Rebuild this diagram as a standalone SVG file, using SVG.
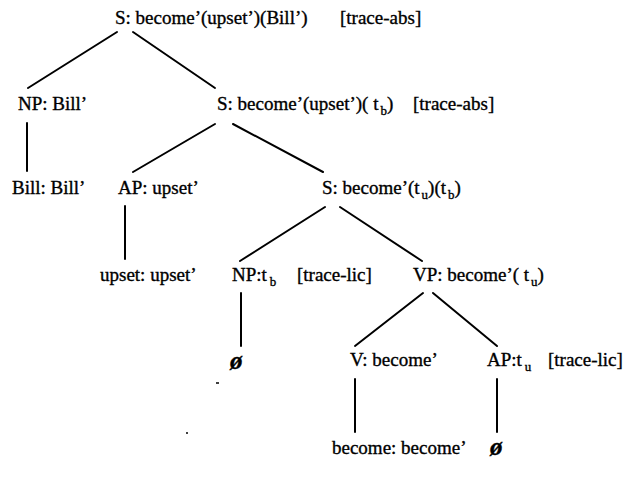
<svg xmlns="http://www.w3.org/2000/svg" width="628" height="478" viewBox="0 0 628 478">
<style>
text{font-family:"Liberation Serif","Times New Roman",serif;font-size:19px;fill:#000;stroke:#000;stroke-width:0.35}
.sub{font-size:13px}
.e{font-weight:bold;font-style:italic;font-size:25px}
#edges line{stroke:#000;stroke-width:2;stroke-linecap:round}
</style>
<rect width="628" height="478" fill="#fff"/>
<g id="edges">
<line x1="117" y1="32" x2="28" y2="88"/>
<line x1="133" y1="32" x2="215" y2="88"/>
<line x1="27" y1="123" x2="27" y2="171"/>
<line x1="215" y1="124" x2="133" y2="172"/>
<line x1="233" y1="124" x2="323" y2="172"/>
<line x1="125" y1="206" x2="125" y2="259"/>
<line x1="325" y1="207" x2="240" y2="261"/>
<line x1="340" y1="207" x2="422" y2="261"/>
<line x1="241" y1="293" x2="241" y2="346"/>
<line x1="423" y1="293" x2="355" y2="346"/>
<line x1="433" y1="293" x2="497" y2="346"/>
<line x1="355" y1="379" x2="355" y2="432"/>
<line x1="497" y1="379" x2="497" y2="432"/>
</g>
<g id="n_root"><text x="115" y="24">S: become’(upset’)(Bill’)</text><text x="340" y="24">[trace-abs]</text></g>
<g id="n_np1"><text x="18" y="110">NP: Bill’</text></g>
<g id="n_s2"><text x="217" y="110">S: become’(upset’)( t<tspan class="sub" dx="2" dy="5">b</tspan><tspan dy="-5">)</tspan></text><text x="413" y="110">[trace-abs]</text></g>
<g id="n_bill"><text x="12" y="194">Bill: Bill’</text></g>
<g id="n_ap1"><text x="118" y="194">AP: upset’</text></g>
<g id="n_s3"><text x="322" y="194">S: become’(t<tspan class="sub" dx="2" dy="5">u</tspan><tspan dy="-5">)(t</tspan><tspan class="sub" dx="2" dy="5">b</tspan><tspan dy="-5">)</tspan></text></g>
<g id="n_upset"><text x="100" y="281">upset: upset’</text></g>
<g id="n_np2"><text x="232" y="281">NP:t<tspan class="sub" dx="3" dy="5">b</tspan></text><text x="297" y="281">[trace-lic]</text></g>
<g id="n_vp"><text x="413" y="281">VP: become’( t<tspan class="sub" dx="2" dy="5">u</tspan><tspan dy="-5">)</tspan></text></g>
<g id="n_e1"><text class="e" x="230" y="369">ø</text></g>
<g id="n_v"><text x="350" y="366">V: become’</text></g>
<g id="n_ap2"><text x="487" y="366">AP:t<tspan class="sub" dx="3" dy="5">u</tspan></text><text x="548" y="366">[trace-lic]</text></g>
<g id="n_become"><text x="332" y="454">become: become’</text></g>
<g id="n_e2"><text class="e" x="490" y="455">ø</text></g>
<g id="specks"><line x1="216" y1="383" x2="219" y2="383" stroke="#000" stroke-width="1.5"/><circle cx="187" cy="433" r="1" fill="#000"/></g>
</svg>
